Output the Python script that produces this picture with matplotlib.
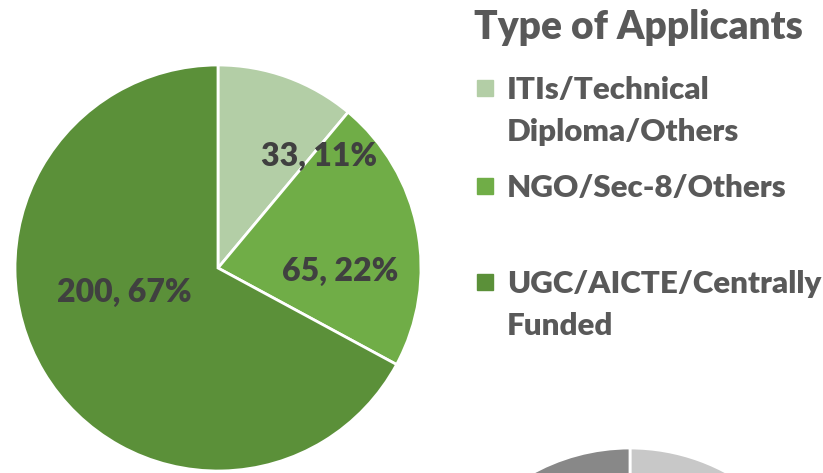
import matplotlib
matplotlib.use('Agg')
import matplotlib.pyplot as plt
from matplotlib.patches import Rectangle

# data
categories = ['ITIs/Technical\nDiploma/Others', 'NGO/Sec-8/Others', 'UGC/AICTE/Centrally\nFunded']
counts = [33, 65, 200]
colors = ['#b3cea6', '#70ad47', '#5b9039']
gray_colors = ['#c8c8c8', '#a5a5a5', '#888888']  # second (cut off) pie below

plt.rcParams['font.family'] = ['Lato', 'DejaVu Sans']
W, H = 823, 473
fig = plt.figure(figsize=(W / 100, H / 100), dpi=100)

# main pie, radius ~203 px, centre (218, 268) from top-left
r = 203
ax = fig.add_axes([(218 - r) / W, (H - 268 - r) / H, 2 * r / W, 2 * r / H])
ax.pie(counts, colors=colors, startangle=90, counterclock=False,
       wedgeprops=dict(edgecolor='white', linewidth=2))
ax.set_xlim(-1, 1)
ax.set_ylim(-1, 1)
ax.axis('off')

total = sum(counts)
label_pos = [(0.50, 0.55), (0.60, -0.015), (-0.46, -0.12)]
for v, (x, y) in zip(counts, label_pos):
    ax.text(x, y, f"{v}, {round(100 * v / total)}%", ha='center', va='center',
            fontsize=23, fontweight='heavy', color='#404040')

# second pie peeking in at the bottom
ax2 = fig.add_axes([(630 - r) / W, (H - 651 - r) / H, 2 * r / W, 2 * r / H])
ax2.pie(counts, colors=gray_colors, startangle=90, counterclock=False,
        wedgeprops=dict(edgecolor='white', linewidth=2))
ax2.set_xlim(-1, 1)
ax2.set_ylim(-1, 1)
ax2.axis('off')

# title + legend drawn by hand (irregular spacing in the original)
fig.text(474 / W, 1 - 27 / H, 'Type of Applicants', ha='left', va='center',
         fontsize=28, fontweight='heavy', color='#595959')

leg_y = [88, 186, 282]  # square centres, px from top
for lab, c, y in zip(categories, colors, leg_y):
    fig.add_artist(Rectangle((477 / W, 1 - (y + 8) / H), 16 / W, 16 / H,
                             transform=fig.transFigure, color=c))
    fig.text(507 / W, 1 - (y - 12) / H, lab, ha='left', va='top',
             fontsize=22.5, fontweight='heavy', color='#595959', linespacing=1.6)

fig.savefig('out.png', dpi=100)
